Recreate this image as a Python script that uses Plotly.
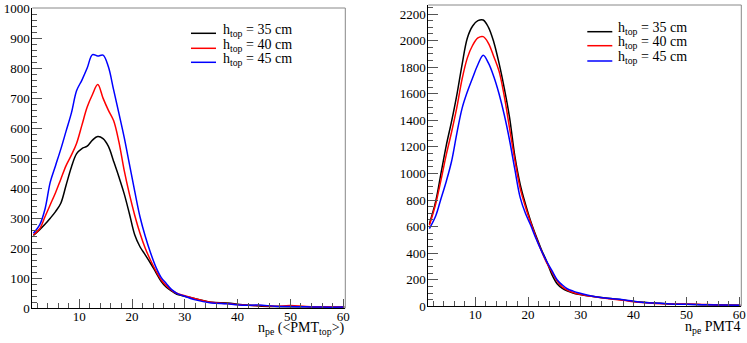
import plotly.graph_objects as go
from plotly.subplots import make_subplots

# sample points along n_pe
npe = [1.3, 2.5, 3.5, 4.5, 5.5, 6.5, 7.5, 8.5, 9.5, 10.5, 11.5, 12.5, 13.5, 14.5,
       15.5, 16.5, 17.5, 18.5, 19.5, 20.5, 21.5, 22.5, 23.5, 24.5, 25.5, 26.5,
       27.5, 28.5, 29.5, 32, 35, 38, 41, 44, 47, 50, 53, 56, 60.2]

labels = ["h<sub>top</sub> = 35 cm", "h<sub>top</sub> = 40 cm", "h<sub>top</sub> = 45 cm"]
colors = ["#000000", "#ff0000", "#0000ff"]

# left panel: <PMT_top>
top_35 = [243, 262, 280, 300, 322, 350, 410, 470, 515, 532, 540, 560, 572, 565,
          540, 490, 438, 382, 315, 245, 205, 178, 150, 120, 90, 70,
          57, 47, 42, 32, 20, 18, 12, 8, 6, 5, 5, 4, 4]
top_40 = [244, 265, 305, 345, 385, 430, 475, 510, 550, 610, 670, 712, 745, 700,
          660, 625, 555, 460, 380, 310, 250, 200, 160, 125, 95, 75,
          60, 50, 44, 32, 20, 16, 11, 9, 7, 9, 6, 5, 4]
top_45 = [250, 278, 330, 420, 475, 530, 590, 650, 725, 760, 800, 845, 840, 843,
          805, 728, 650, 570, 480, 390, 305, 240, 185, 138, 103, 82,
          62, 50, 43, 28, 18, 15, 10, 11, 7, 6, 5, 4, 4]

# right panel: PMT4
pmt4_35 = [620, 790, 1000, 1210, 1390, 1590, 1820, 2020, 2110, 2150, 2155, 2100, 1990, 1830,
           1640, 1420, 1130, 920, 770, 640, 530, 430, 340, 240, 170, 135,
           115, 100, 90, 75, 60, 48, 32, 25, 18, 15, 12, 10, 8]
pmt4_40 = [610, 770, 950, 1140, 1310, 1495, 1710, 1870, 1965, 2020, 2030, 1980, 1880, 1770,
           1580, 1340, 1100, 890, 750, 630, 520, 420, 330, 260, 190, 145,
           120, 105, 92, 75, 58, 45, 30, 22, 18, 18, 14, 10, 8]
pmt4_45 = [585, 680, 810, 940, 1090, 1300, 1490, 1615, 1720, 1820, 1890, 1830, 1730, 1600,
           1440, 1250, 1030, 820, 700, 610, 510, 420, 340, 270, 200, 160,
           130, 115, 102, 78, 60, 50, 32, 24, 18, 15, 12, 10, 8]

W, H = 747, 343
FONT = "Liberation Serif"

fig = make_subplots(rows=1, cols=2)

for col, series in [(1, [top_35, top_40, top_45]), (2, [pmt4_35, pmt4_40, pmt4_45])]:
    for name, c, ys in zip(labels, colors, series):
        fig.add_trace(go.Scatter(x=npe, y=ys, mode="lines", name=name,
                                 line=dict(color=c, width=1.5, shape="spline", smoothing=1),
                                 showlegend=False), 1, col)

axis_common = dict(showline=True, linecolor="black", linewidth=1, showgrid=False,
                   zeroline=False, ticks="inside", tickcolor="#555", automargin=False,
                   tickfont=dict(family=FONT, size=13, color="black"))

fig.update_xaxes(axis_common, range=[1.1, 60.4], dtick=10, tick0=0, ticklen=9,
                 ticklabelstandoff=-4,
                 minor=dict(dtick=2, tick0=0, ticks="inside", ticklen=5, tickcolor="#555"))
fig.update_yaxes(axis_common, ticklen=10, ticklabelstandoff=-1)

fig.update_layout(
    xaxis=dict(domain=[32.3 / W, 345.3 / W]),
    yaxis=dict(domain=[1 - 308.3 / H, 1 - 8 / H], range=[0, 1000], dtick=100,
               minor=dict(dtick=20, ticks="inside", ticklen=5, tickcolor="#555")),
    xaxis2=dict(domain=[428.3 / W, 741.3 / W]),
    yaxis2=dict(domain=[1 - 306.3 / H, 1 - 5 / H], range=[0, 2268], dtick=200,
                minor=dict(dtick=50, ticks="inside", ticklen=5, tickcolor="#555")),
)

# grey top/right frame borders
for ax in ["", "2"]:
    fig.add_shape(type="line", xref=f"x{ax} domain", yref=f"y{ax} domain",
                  x0=0, x1=1, y0=1, y1=1, line=dict(color="#888", width=1))
    fig.add_shape(type="line", xref=f"x{ax} domain", yref=f"y{ax} domain",
                  x0=1, x1=1, y0=0, y1=1, line=dict(color="#888", width=1))

# legends drawn by hand (tight ROOT-style spacing)
legend_pos = [(191, 220.5, [33.3, 48.3, 62.3]), (587.3, 616, [31.7, 45.7, 61])]
for x_line, x_text, rows in legend_pos:
    for name, c, yy in zip(labels, colors, rows):
        fig.add_shape(type="line", xref="paper", yref="paper",
                      x0=x_line / W, x1=(x_line + 25) / W, y0=1 - yy / H, y1=1 - yy / H,
                      line=dict(color=c, width=1.5))
        fig.add_annotation(x=x_text / W, y=1 - (yy - 3) / H, xref="paper", yref="paper",
                           text=name, showarrow=False, xanchor="left", yanchor="middle",
                           font=dict(family=FONT, size=14, color="black"))

# axis titles, right-aligned like ROOT
for xr, yy, txt in [(346.5, 318, "n<sub>pe</sub> (&lt;PMT<sub>top</sub>&gt;)"),
                    (742.5, 317, "n<sub>pe</sub> PMT4")]:
    fig.add_annotation(x=xr / W, y=1 - yy / H, xref="paper", yref="paper", text=txt,
                       showarrow=False, xanchor="right", yanchor="top",
                       font=dict(family=FONT, size=14, color="black"))

fig.update_layout(width=W, height=H, margin=dict(l=0, r=0, t=0, b=0),
                  plot_bgcolor="white", paper_bgcolor="white",
                  font=dict(family=FONT))

# drop the default page margin so the figure sits at the window origin
fig.write_html("out.html", config={"displayModeBar": False},
               post_script="document.body.style.margin='0';")
